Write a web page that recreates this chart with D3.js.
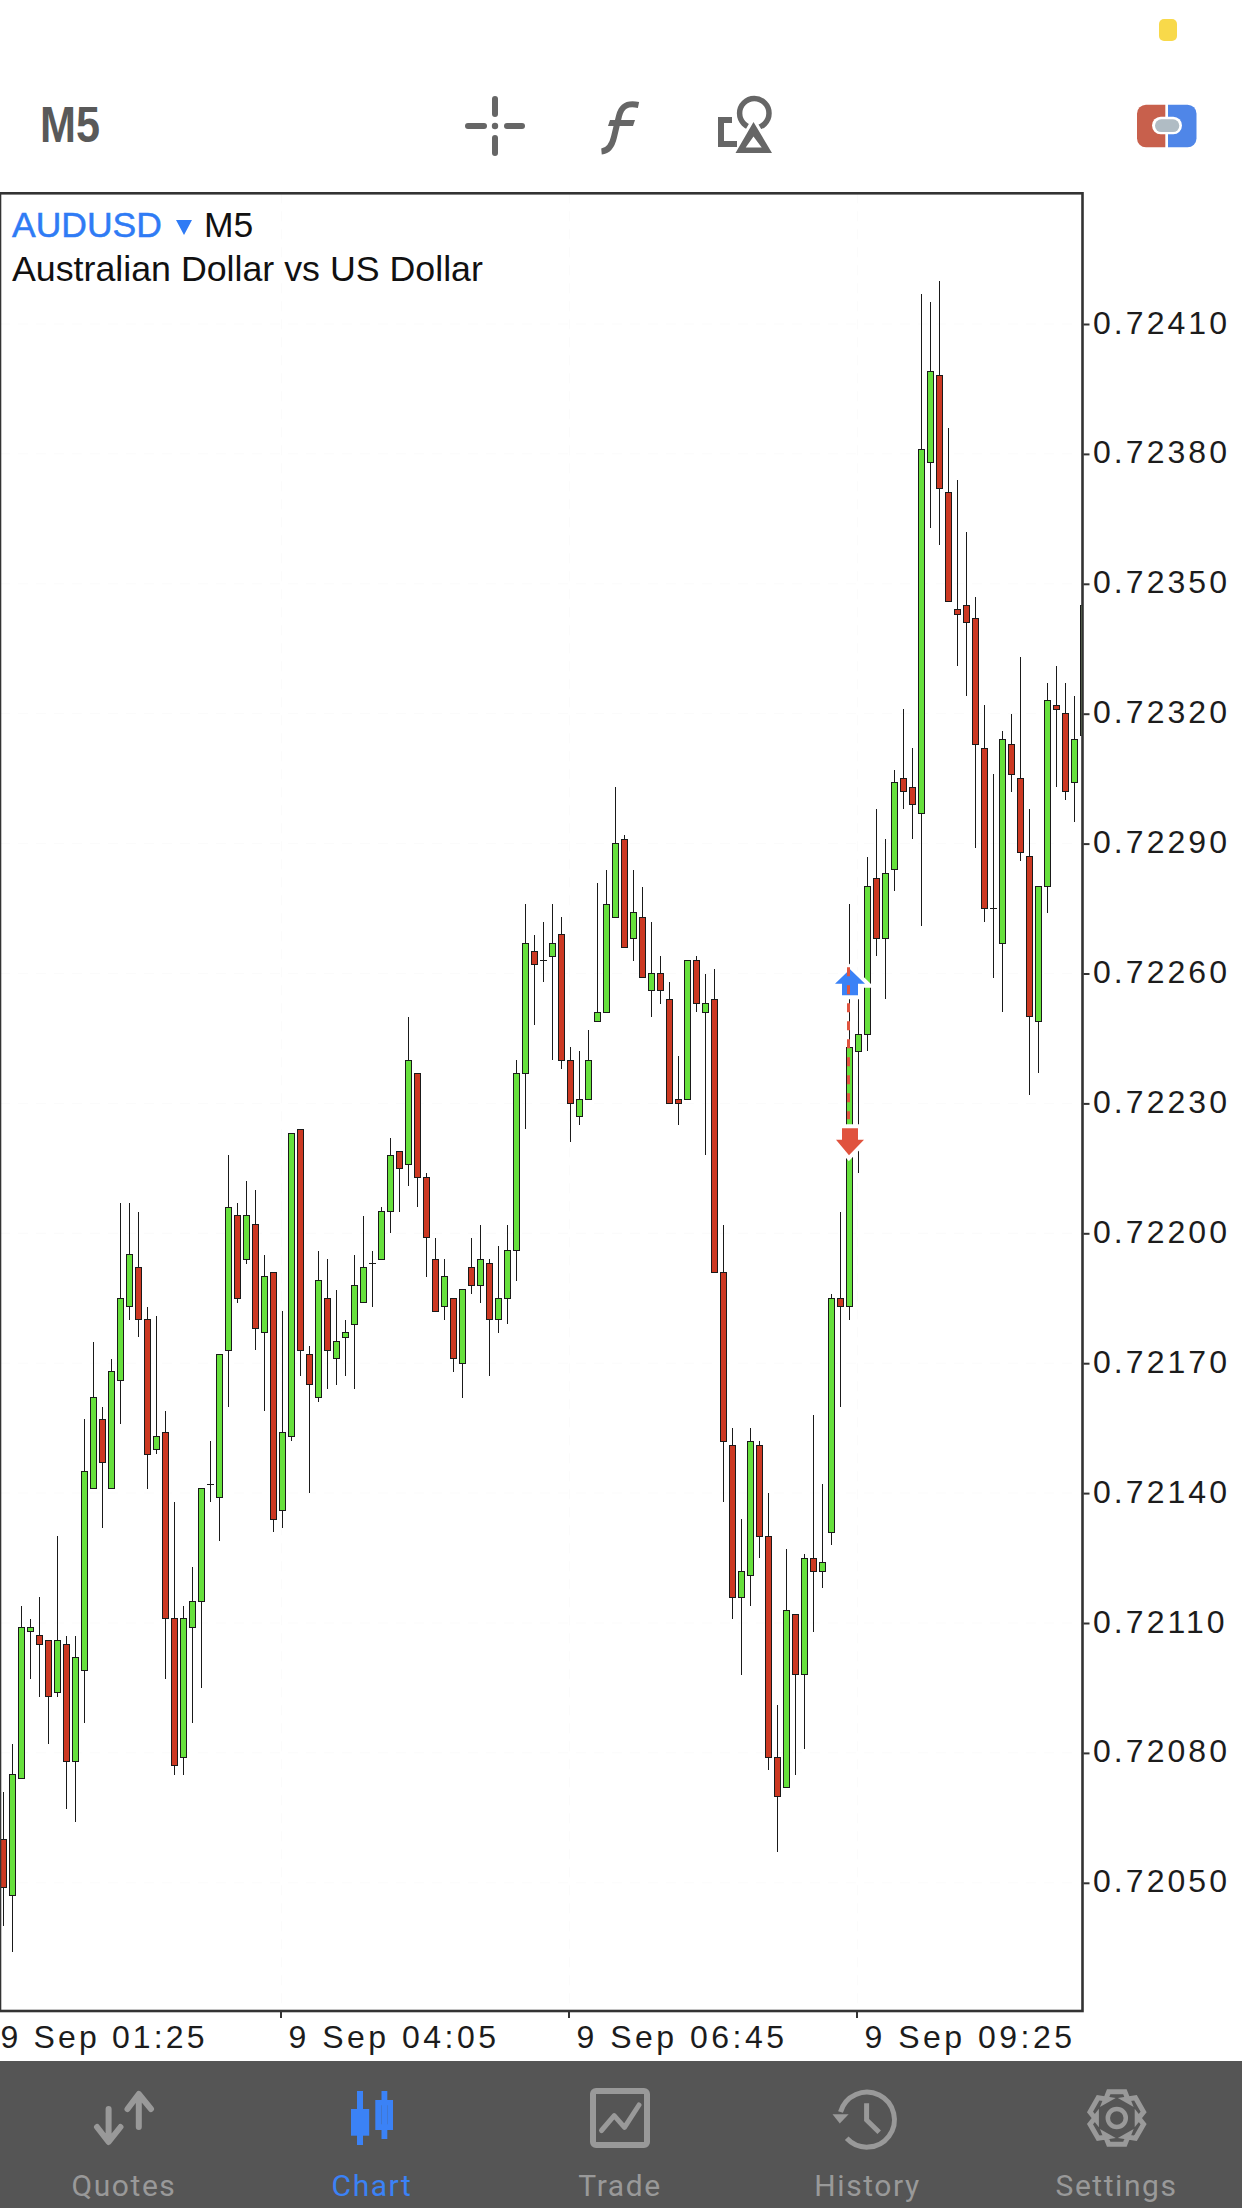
<!DOCTYPE html>
<html>
<head>
<meta charset="utf-8">
<style>
html,body{margin:0;padding:0;background:#fff}
svg{display:block}
text{font-family:"Liberation Sans",Arial,sans-serif}
</style>
<script src="https://cdn.jsdelivr.net/npm/d3@7/dist/d3.min.js"></script>
</head>
<body>
<svg id="c" width="1242" height="2208" viewBox="0 0 1242 2208"></svg>
<script>
// Prices in points (1 point = 0.00001), AUDUSD M5
const highs=[72071,72082,72114,72111,72116,72106,72130,72107,72107,72157,
72175,72160,72171,72207,72207,72205,72183,72181,72159,72138,
72114,72123,72141,72152,72172,72218,72207,72212,72210,72195,
72191,72182,72223,72224,72174,72196,72194,72187,72180,72195,
72204,72196,72206,72222,72219,72250,72237,72214,72199,72194,
72185,72187,72199,72202,72194,72197,72202,72240,72276,72269,
72272,72276,72273,72243,72242,72247,72281,72284,72303,72292,
72284,72280,72272,72264,72258,72241,72263,72264,72260,72261,
72202,72155,72134,72155,72152,72140,72091,72127,72112,72126,
72158,72142,72186,72205,72276,72254,72287,72298,72291,72307,
72321,72312,72417,72415,72420,72386,72374,72362,72347,72322,
72306,72316,72320,72333,72298,72280,72327,72331,72327,72324,72345];
const lows=[72040,72034,72074,72097,72093,72082,72093,72067,72064,72087,
72141,72132,72141,72156,72180,72176,72141,72149,72097,72075,
72075,72087,72095,72138,72129,72160,72184,72193,72173,72159,
72131,72132,72152,72167,72140,72161,72164,72165,72167,72164,
72184,72183,72194,72200,72205,72211,72206,72190,72182,72180,
72168,72162,72186,72184,72167,72177,72179,72189,72224,72248,
72258,72240,72238,72221,72225,72231,72249,72251,72273,72266,
72263,72259,72250,72253,72230,72225,72231,72251,72218,72191,
72138,72111,72098,72114,72125,72076,72057,72072,72075,72081,
72108,72118,72128,72160,72180,72214,72242,72264,72254,72279,
72298,72291,72271,72363,72359,72346,72331,72324,72289,72272,
72259,72251,72302,72286,72232,72237,72274,72303,72300,72295,72315];
const opens=[72060,72047,72074,72108,72107,72106,72094,72105,72078,72099,
72141,72157,72141,72166,72183,72192,72180,72150,72154,72111,
72079,72109,72115,72142,72139,72173,72204,72194,72202,72177,
72191,72136,72153,72224,72172,72162,72185,72171,72176,72179,
72184,72193,72194,72205,72219,72216,72237,72213,72194,72183,
72185,72170,72192,72188,72193,72180,72185,72196,72237,72265,
72263,72264,72269,72240,72227,72231,72249,72251,72273,72291,
72268,72273,72256,72260,72254,72231,72231,72263,72251,72254,
72191,72151,72116,72121,72151,72130,72079,72072,72112,72098,
72125,72122,72131,72185,72183,72242,72246,72282,72268,72284,
72305,72303,72297,72378,72398,72371,72344,72345,72342,72312,
72275,72267,72313,72305,72287,72249,72280,72322,72320,72304,72315];
const closes=[72049,72075,72109,72109,72105,72093,72106,72078,72102,72145,
72162,72147,72168,72185,72195,72180,72149,72153,72111,72077,
72111,72115,72141,72142,72172,72206,72185,72204,72178,72190,
72134,72154,72223,72173,72165,72189,72173,72175,72177,72188,
72192,72193,72205,72218,72215,72240,72213,72199,72182,72190,
72171,72187,72188,72194,72180,72185,72196,72237,72267,72262,
72263,72267,72240,72230,72231,72240,72251,72276,72290,72266,
72274,72259,72260,72256,72230,72230,72263,72253,72253,72191,
72152,72116,72122,72152,72130,72079,72070,72113,72098,72125,
72122,72124,72185,72183,72243,72246,72280,72268,72283,72304,
72302,72299,72381,72399,72372,72346,72343,72341,72313,72275,
72275,72314,72306,72288,72250,72280,72323,72321,72302,72314,72345];
const yTickLabels=["0.72410","0.72380","0.72350","0.72320","0.72290","0.72260","0.72230","0.72200","0.72170","0.72140","0.72110","0.72080","0.72050"];
const xTickIndex=[-1,31,63,95];
const xTickLabels=["9 Sep 01:25","9 Sep 04:05","9 Sep 06:45","9 Sep 09:25"];
const orderPrices=[72261,72218]; // buy arrow, sell arrow
const tabLabels=["Quotes","Chart","Trade","History","Settings"];

const GREEN="#66e03c",RED="#cc3822",DARK="#1a1a1a",FRAME="#333333";
const svg=d3.select("#c");
const P={l:0,r:1082.5,t:193.3,b:2011};
const y=d3.scaleLinear().domain([72410,72050]).range([324,1882.8]);
const x=d3.scaleLinear().domain([0,120]).range([3.5,1083.5]);
const tickPts=yTickLabels.map(s=>+s.slice(2));

svg.append("rect").attr("width",1242).attr("height",2208).attr("fill","#fff");

// status pill
svg.append("rect").attr("x",1159).attr("y",19).attr("width",18).attr("height",22).attr("rx",5).attr("fill","#f8d94a");

// header
svg.append("text").attr("x",40).attr("y",142).attr("font-size",50).attr("font-weight",700)
  .attr("textLength",60).attr("lengthAdjust","spacingAndGlyphs")
  .attr("fill","#595959").text("M5");

const ICON="#666666";
const tb=svg.append("g").attr("fill","none").attr("stroke",ICON).attr("stroke-linecap","round");
[[495,99,495,114],[495,138,495,153],[468,126,484,126],[507,126,522,126]].forEach(s=>{
  tb.append("line").attr("x1",s[0]).attr("y1",s[1]).attr("x2",s[2]).attr("y2",s[3]).attr("stroke-width",6);
});
svg.append("circle").attr("cx",495).attr("cy",126).attr("r",3.2).attr("fill",ICON);
// f
svg.append("path").attr("d","M638.5 105 C627 102.5 621.5 106 619 116 L614 137 C611.500 148 607 151 601.500 151.500")
  .attr("fill","none").attr("stroke",ICON).attr("stroke-width",6);
svg.append("path").attr("d","M610 120 H635 L633 126 H608 Z").attr("fill",ICON);
// shapes
svg.append("circle").attr("cx",754.3).attr("cy",113.3).attr("r",14.7).attr("fill","none").attr("stroke",ICON).attr("stroke-width",5.5);
svg.append("path").attr("d","M753.500 122 L772 153 H735.500 Z").attr("fill","#fff").attr("stroke","#fff").attr("stroke-width",6);
svg.append("path").attr("d","M753.500 122 L772 153 H735.500 Z M753.500 136.500 L745.700 147.500 H761.700 Z").attr("fill",ICON).attr("fill-rule","evenodd");
svg.append("path").attr("d","M732 120 H721 V144 H737").attr("fill","none").attr("stroke",ICON).attr("stroke-width",6);
// account switch icon
svg.append("path").attr("d","M1165.3 104.700 H1146 a9 9 0 0 0 -9 9 V138.300 a9 9 0 0 0 9 9 H1165.3 Z").attr("fill","#c8604c");
svg.append("path").attr("d","M1168 104.700 H1187.500 a9 9 0 0 1 9 9 V138.300 a9 9 0 0 1 -9 9 H1168 Z").attr("fill","#4f86e8");
svg.append("rect").attr("x",1152).attr("y",116.7).attr("width",30).attr("height",17.5).attr("rx",8.7).attr("fill","#fff");
svg.append("rect").attr("x",1155).attr("y",119.3).attr("width",24.3).attr("height",12.7).attr("rx",6.3).attr("fill","#b0bcc4");

// faint grid
const grid=svg.append("g").attr("stroke","#fbfbfb").attr("stroke-width",1).attr("stroke-dasharray","10 8");
tickPts.forEach(v=>grid.append("line").attr("x1",P.l).attr("x2",P.r).attr("y1",y(v)).attr("y2",y(v)));
xTickIndex.slice(1).forEach(k=>grid.append("line").attr("x1",x(k)-1).attr("x2",x(k)-1).attr("y1",P.t).attr("y2",P.b));

// candles
svg.append("defs").append("clipPath").attr("id","plot").append("rect")
  .attr("x",0).attr("y",P.t).attr("width",1081.5).attr("height",P.b-P.t);
const cg=svg.append("g").attr("clip-path","url(#plot)").attr("shape-rendering","crispEdges");
const idx=d3.range(opens.length);
cg.selectAll("line.w").data(idx).join("line").attr("class","w")
  .attr("x1",i=>x(i)).attr("x2",i=>x(i)).attr("y1",i=>y(highs[i])).attr("y2",i=>y(lows[i]))
  .attr("stroke",DARK).attr("stroke-width",1);
cg.selectAll("rect.b").data(idx.filter(i=>opens[i]!==closes[i])).join("rect").attr("class","b")
  .attr("x",i=>x(i)-3).attr("width",6)
  .attr("y",i=>y(Math.max(opens[i],closes[i])))
  .attr("height",i=>Math.abs(y(opens[i])-y(closes[i])))
  .attr("fill",i=>closes[i]>opens[i]?GREEN:RED)
  .attr("stroke",DARK).attr("stroke-width",1);
cg.selectAll("line.d").data(idx.filter(i=>opens[i]===closes[i])).join("line").attr("class","d")
  .attr("x1",i=>x(i)-3.5).attr("x2",i=>x(i)+3.5).attr("y1",i=>y(opens[i])).attr("y2",i=>y(opens[i]))
  .attr("stroke",DARK).attr("stroke-width",1);

// order markers
const orderX=848.5, BLUE="#3b82f6", ORED="#e0533e";
const by=y(orderPrices[0]), ry=y(orderPrices[1]);
const up=`M${orderX+1.5} ${by} L${orderX+16.5} ${by+14.7} H${orderX+9.5} V${by+26} H${orderX-6.5} V${by+14.7} H${orderX-13.5} Z`;
const dn=`M${orderX-6.5} ${ry-27} H${orderX+9.5} V${ry-15.7} H${orderX+15.5} L${orderX+0.5} ${ry} L${orderX-12.5} ${ry-15.7} H${orderX-6.5} Z`;
svg.append("path").attr("d",up).attr("fill","#fff").attr("stroke","#fff").attr("stroke-width",8);
svg.append("path").attr("d",dn).attr("fill","#fff").attr("stroke","#fff").attr("stroke-width",8);
svg.append("path").attr("d",up).attr("fill",BLUE);
svg.append("path").attr("d",dn).attr("fill",ORED);
svg.append("line").attr("x1",orderX).attr("x2",orderX).attr("y1",by-2).attr("y2",ry-36)
  .attr("stroke",ORED).attr("stroke-width",3).attr("stroke-dasharray","9 9");

// frame
svg.append("rect").attr("x",P.l).attr("y",P.t).attr("width",P.r-P.l).attr("height",P.b-P.t)
  .attr("fill","none").attr("stroke",FRAME).attr("stroke-width",2.6);

// axes
const axisY=d3.axisRight(y).tickValues(tickPts).tickSize(6).tickFormat((d,i)=>yTickLabels[i]);
const gy=svg.append("g").attr("transform",`translate(${P.r+1},0)`).call(axisY);
gy.select(".domain").remove();
gy.selectAll("line").attr("stroke",FRAME).attr("stroke-width",2);
gy.selectAll("text").attr("x",9.5).attr("dy",null).attr("y",9).attr("font-size",32).attr("fill","#1c1c1c")
  .attr("letter-spacing",3.05).style("font-family",'"Liberation Sans"');

const xLabelSpacing=[3.15,3.5,3.5,3.5];
xTickIndex.forEach((k,i)=>{
  const tx=x(k)-1.5;
  svg.append("line").attr("x1",tx).attr("x2",tx).attr("y1",P.b).attr("y2",2018).attr("stroke",FRAME).attr("stroke-width",2);
  svg.append("text").attr("x",tx+7.5).attr("y",2048).attr("font-size",32).attr("fill","#1c1c1c")
    .attr("letter-spacing",xLabelSpacing[i]).text(xTickLabels[i]);
});

// title
svg.append("text").attr("x",12).attr("y",237).attr("font-size",35.5).attr("fill","#2f7bf5")
  .attr("stroke","#2f7bf5").attr("stroke-width",0.5).text("AUDUSD");
svg.append("path").attr("d","M176 220 H192 L184 235 Z").attr("fill","#2f7bf5");
svg.append("text").attr("x",204).attr("y",237).attr("font-size",35.5).attr("fill","#111").text("M5");
svg.append("text").attr("x",12).attr("y",281).attr("font-size",35.75).attr("fill","#111").text("Australian Dollar vs US Dollar");

// tab bar
svg.append("rect").attr("x",0).attr("y",2061).attr("width",1242).attr("height",147).attr("fill","#555555");
const TAB="#999999";
const tabX=[124,372,620,867.5,1116.5];
tabLabels.forEach((t,i)=>{
  svg.append("text").attr("x",tabX[i]).attr("y",2196).attr("text-anchor","middle").attr("font-size",30)
    .attr("letter-spacing",1.55).style("font-family","Roboto").attr("fill",i===1?BLUE:TAB).text(t);
});
const s=svg.append("g").attr("fill","none").attr("stroke",TAB).attr("stroke-width",6).attr("stroke-linecap","round").attr("stroke-linejoin","round");
// quotes
s.append("path").attr("d","M108.600 2109 V2141 M97 2127 L108.600 2142 L120.500 2127");
s.append("path").attr("d","M138.800 2127 V2095 M127.500 2109 L138.800 2094 L151 2109");
// chart icon
const ci=svg.append("g").attr("fill",BLUE);
ci.append("rect").attr("x",357).attr("y",2091).attr("width",6).attr("height",54);
ci.append("rect").attr("x",351).attr("y",2109).attr("width",18.200).attr("height",26.700);
ci.append("rect").attr("x",381.500).attr("y",2091).attr("width",5.800).attr("height",48);
ci.append("path").attr("fill-rule","evenodd").attr("d","M375.300 2100 H393 V2130 H375.300 Z M381.500 2105.300 V2124.300 H387.300 V2105.300 Z");
// trade
s.append("rect").attr("x",593).attr("y",2091).attr("width",54).attr("height",54).attr("rx",3).attr("stroke-width",6);
s.append("path").attr("d","M601.500 2130.500 L614.200 2115.700 L624.500 2127.300 L639 2105").attr("stroke-width",5);
// history
s.append("path").attr("d","M846.700 2138.300 A27.500 27.500 0 1 0 840.500 2112").attr("stroke-width",5).attr("stroke-linecap","butt");
svg.append("path").attr("d","M832.500 2114.300 H848.600 L839.800 2123.500 Z").attr("fill",TAB);
s.append("path").attr("d","M866.600 2103.300 V2120 L879.200 2132.300").attr("stroke-width",5).attr("stroke-linecap","butt").attr("stroke-linejoin","miter");
// settings gear
const gearC=[1116.8,2118],pts=[];
for(let i=0;i<6;i++){
  const a=-Math.PI/2+i*Math.PI/3, d=0.3, e=0.62;
  [[-e,20.5],[-d,27.5],[d,27.5],[e,20.5]].forEach(p=>{
    pts.push([gearC[0]+p[1]*Math.cos(a+p[0]),gearC[1]+p[1]*Math.sin(a+p[0])]);
  });
}
s.append("path").attr("d","M"+pts.map(p=>p.join(" ")).join("L")+"Z").attr("stroke-width",5).attr("stroke-linejoin","miter");
s.append("circle").attr("cx",gearC[0]).attr("cy",gearC[1]).attr("r",9).attr("stroke-width",4.5);
</script>
</body>
</html>
